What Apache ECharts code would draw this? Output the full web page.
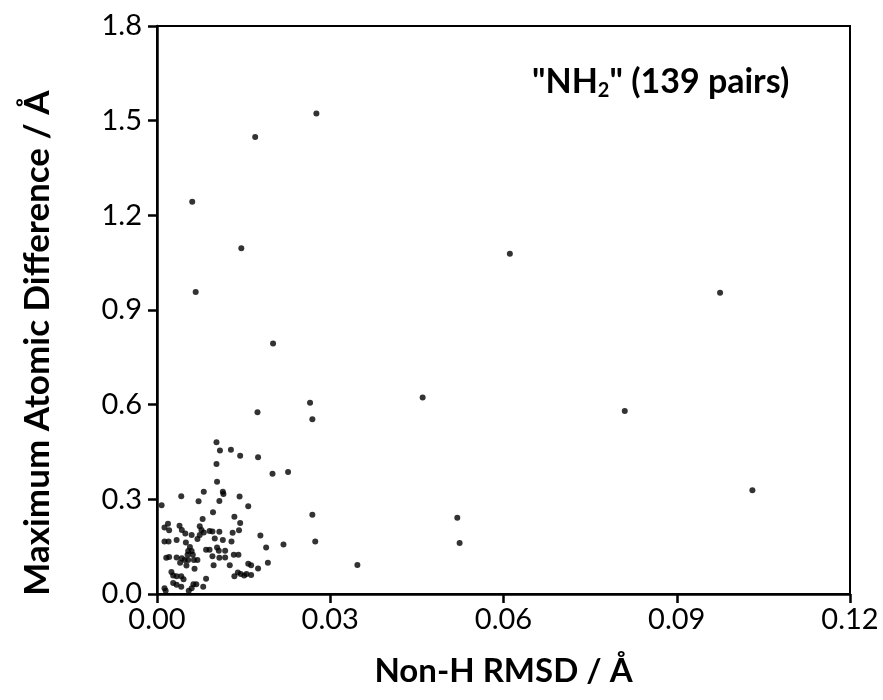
<!DOCTYPE html>
<html>
<head>
<meta charset="utf-8">
<script src="https://cdn.jsdelivr.net/npm/echarts@6/dist/echarts.min.js"></script>
<style>html,body{margin:0;padding:0;background:#fff;}#c{width:883px;height:700px;}</style>
</head>
<body>
<div id="c"></div>
<script>
var xTicks = [0, 0.03, 0.06, 0.09, 0.12];
var yTicks = [0, 0.3, 0.6, 0.9, 1.2, 1.5, 1.8];
var rmsd = [
  0.0276,0.0170,0.0061,0.0146,0.0067,0.0201,0.0265,0.0174,0.0269,0.0460,
  0.0810,0.1031,0.0269,0.0274,0.0347,0.0520,0.0524,0.0611,0.0975,
  0.0103,0.0109,0.0128,0.0144,0.0175,0.0103,0.0200,0.0227,0.0104,0.0081,
  0.0114,0.0115,0.0042,0.0072,0.0108,0.0143,0.0008,0.0158,0.0097,0.0079,
  0.0134,0.0144,0.0019,0.0013,0.0021,0.0039,0.0043,0.0074,0.0077,0.0081,
  0.0091,0.0096,0.0108,0.0142,0.0074,0.0060,0.0070,0.0179,0.0131,0.0013,
  0.0020,0.0034,0.0050,0.0057,0.0100,0.0114,0.0129,0.0189,0.0219,0.0085,
  0.0091,0.0104,0.0107,0.0118,0.0054,0.0060,0.0053,0.0062,0.0016,0.0021,
  0.0034,0.0043,0.0096,0.0108,0.0118,0.0133,0.0141,0.0040,0.0048,0.0054,
  0.0064,0.0070,0.0051,0.0065,0.0098,0.0126,0.0158,0.0163,0.0175,0.0192,
  0.0025,0.0028,0.0034,0.0042,0.0046,0.0140,0.0134,0.0145,0.0155,0.0163,
  0.0151,0.0028,0.0034,0.0042,0.0063,0.0068,0.0080,0.0085,0.0013,0.0015,
  0.0055,0.0060,0.0049
];
var maxDiff = [
  1.523,1.448,1.243,1.096,0.957,0.794,0.606,0.576,0.554,0.623,
  0.580,0.329,0.251,0.166,0.092,0.242,0.162,1.078,0.955,
  0.481,0.455,0.457,0.438,0.433,0.412,0.381,0.387,0.356,0.324,
  0.324,0.317,0.310,0.294,0.295,0.309,0.281,0.278,0.259,0.238,
  0.245,0.225,0.223,0.211,0.202,0.216,0.203,0.215,0.203,0.195,
  0.200,0.198,0.197,0.202,0.187,0.187,0.174,0.185,0.194,0.166,
  0.166,0.171,0.163,0.149,0.176,0.171,0.166,0.147,0.157,0.140,
  0.140,0.147,0.137,0.137,0.136,0.136,0.124,0.124,0.115,0.117,
  0.116,0.113,0.120,0.115,0.116,0.124,0.124,0.099,0.108,0.108,
  0.108,0.108,0.090,0.080,0.091,0.091,0.096,0.091,0.081,0.099,
  0.070,0.059,0.056,0.056,0.047,0.068,0.056,0.063,0.063,0.060,
  0.059,0.035,0.029,0.023,0.031,0.031,0.023,0.048,0.018,0.010,
  0.010,0.018,0.192
];
var xTitle = 'Non-H RMSD / Å';
var yTitle = 'Maximum Atomic Difference / Å';
var pts = rmsd.map(function (x, i) { return [x, maxDiff[i]]; });
var FONT = 'Lato';
var chart = echarts.init(document.getElementById('c'), null, {renderer: 'canvas'});
chart.setOption({
  animation: false,
  backgroundColor: '#fff',
  grid: {left: 157, right: 33, top: 26, bottom: 106, show: true, borderColor: '#000', borderWidth: 2, backgroundColor: 'transparent'},
  title: {
    text: '"NH{sub|2}" (139 pairs)',
    left: 527, top: 59,
    textStyle: {
      fontFamily: FONT, fontSize: 34, fontWeight: 'bold', color: '#000',
      rich: {sub: {fontFamily: FONT, fontSize: 20, fontWeight: 'bold', color: '#000', padding: [17, 0, 0, 0]}}
    }
  },
  graphic: [{
    type: 'text', x: 38, y: 343, rotation: Math.PI / 2,
    style: {text: yTitle, fontFamily: FONT, fontSize: 35, fontWeight: 'bold', fill: '#000', align: 'center', verticalAlign: 'middle'}
  }],
  xAxis: {
    type: 'value', min: xTicks[0], max: xTicks[xTicks.length - 1], interval: 0.03,
    name: xTitle, nameLocation: 'middle', nameGap: 61,
    nameTextStyle: {fontFamily: FONT, fontSize: 33, fontWeight: 'bold', color: '#000'},
    axisLine: {show: true, onZero: false, lineStyle: {color: '#000', width: 2.5}},
    axisTick: {show: true, inside: false, length: 9, lineStyle: {color: '#000', width: 2.5}},
    axisLabel: {fontFamily: FONT, fontSize: 29, color: '#000', margin: 11, formatter: function (v) { return v.toFixed(2); }},
    splitLine: {show: false}
  },
  yAxis: {
    type: 'value', min: yTicks[0], max: yTicks[yTicks.length - 1], interval: 0.3,
    axisLine: {show: true, lineStyle: {color: '#000', width: 2.5}},
    axisTick: {show: true, inside: false, length: 9, lineStyle: {color: '#000', width: 2.5}},
    axisLabel: {fontFamily: FONT, fontSize: 29, color: '#000', margin: 15, formatter: function (v) { return v.toFixed(1); }},
    splitLine: {show: false}
  },
  series: [{
    type: 'scatter', data: pts, symbol: 'circle', symbolSize: 6,
    itemStyle: {color: '#000'}, silent: true
  }]
});
</script>
</body>
</html>
